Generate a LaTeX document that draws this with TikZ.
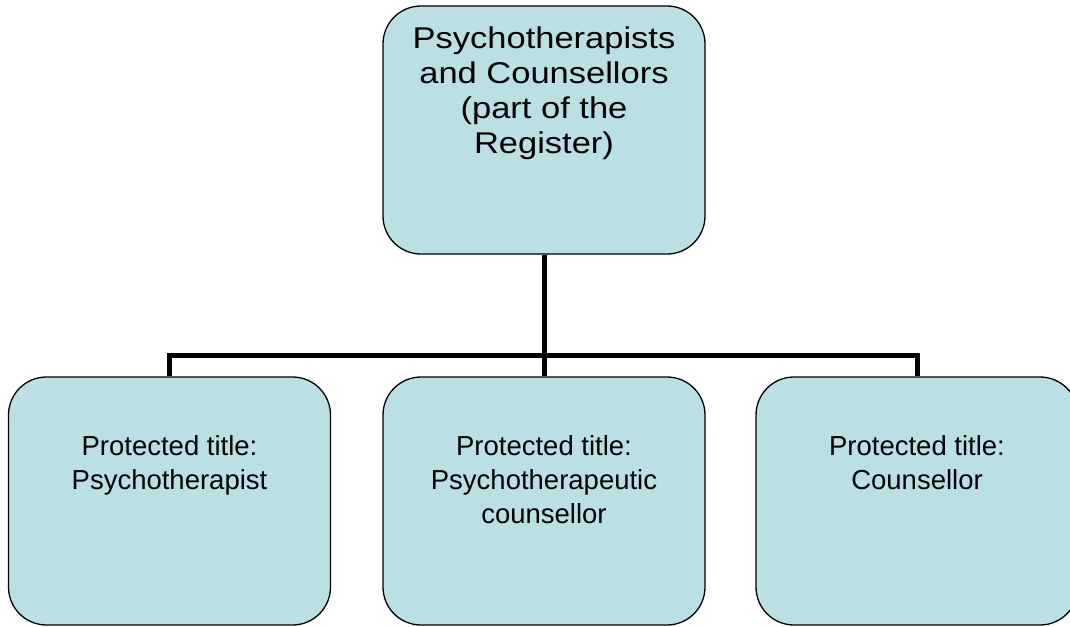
\documentclass[tikz,border=0pt]{standalone}
\usepackage{fontspec}
\setmainfont{Liberation Sans}
\newfontfamily\widesans{Liberation Sans}[FakeStretch=1.15]
\usetikzlibrary{positioning}
\definecolor{boxfill}{RGB}{186,224,227}
\begin{document}
\begin{tikzpicture}[x=1pt,y=-1pt,
    box/.style={draw=black,line width=1.3pt,fill=boxfill,rounded corners=38pt,
        minimum width=322pt,minimum height=248pt,inner sep=0pt},
    toptext/.style={align=center,inner sep=0pt,font=\widesans\fontsize{30}{35}\selectfont},
    subtext/.style={align=center,inner sep=0pt,font=\fontsize{27.5}{34}\selectfont},
    conn/.style={line width=5pt}]
    \clip (0,0) rectangle (1070,626);
    % register box and the three titles
    \node[box] (reg) at (544,130) {};
    \node[box] (psy) at (169.5,501) {};
    \node[box] (ptc) at (544,501) {};
    \node[box] (cou) at (917,501) {};
    \node[toptext,below=21pt of reg.north] (regtitle) {Psychotherapists\\and Counsellors\\(part of the\\Register)};
    \node[subtext,below=59pt of psy.north] (psytitle) {Protected title:\\Psychotherapist};
    \node[subtext,below=59pt of ptc.north] (ptctitle) {Protected title:\\Psychotherapeutic\\counsellor};
    \node[subtext,below=59pt of cou.north] (coutitle) {Protected title:\\Counsellor};
    % connectors
    \coordinate (bus) at (544,355);
    \draw[conn] (reg.south) -- (bus);
    \draw[conn] (psy.north) |- (bus -| cou.north) -- (cou.north);
    \draw[conn] (ptc.north) -- (ptc.north |- bus);
\end{tikzpicture}
\end{document}
